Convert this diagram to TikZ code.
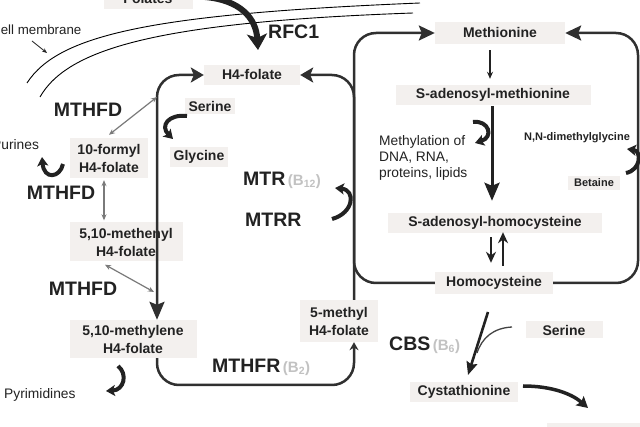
\documentclass[tikz,border=0pt]{standalone}
\usepackage{fontspec}
\setmainfont{Liberation Sans}
\usetikzlibrary{arrows.meta,calc}
\definecolor{boxbg}{HTML}{F3F0EE}
\definecolor{ink}{HTML}{222222}
\definecolor{loopc}{HTML}{303030}
\definecolor{dblc}{HTML}{7A7A7A}
\definecolor{vitc}{HTML}{C2C2C2}
\newcommand{\fbig}{\fontsize{19.5}{22}\selectfont\bfseries}
\newcommand{\flbl}{\fontsize{14}{18}\selectfont\bfseries}
\newcommand{\freg}{\fontsize{13.8}{15.8}\selectfont}
\newcommand{\fsmall}{\fontsize{11}{13}\selectfont\bfseries}
\newcommand{\vit}[1]{{\color{vitc}\fontsize{15}{17}\selectfont\bfseries\,(B\textsubscript{#1})}}
\begin{document}
\begin{tikzpicture}[x=1pt,y=-1pt,
  lbox/.style={fill=boxbg, font=\flbl, text=ink, inner xsep=4pt, inner ysep=3pt, align=center},
  enz/.style={font=\fbig, text=ink, inner sep=0pt},
  plaintxt/.style={font=\freg, text=ink, inner sep=0pt},
  loopline/.style={draw=loopc, line width=2.5pt, rounded corners=22pt},
  curvarr/.style={draw=ink, line width=4pt, -{Stealth[length=9pt,width=11pt,inset=2pt]}},
  dblarr/.style={draw=dblc, line width=1.2pt, {Stealth[length=6pt,width=5pt]}-{Stealth[length=6pt,width=5pt]}},
  memb/.style={draw=black, line width=0.9pt}
]
\useasboundingbox (0,0) rectangle (640,427);
\fill[white] (0,0) rectangle (640,427);

% cell membrane
\draw[memb] (27,83) .. controls (58,35) and (150,14) .. (420,3);
\draw[memb] (40,97) .. controls (68,48) and (160,22) .. (413,13);
\node[plaintxt, font=\fontsize{13.3}{15}\selectfont, anchor=west] (cm) at (-9,30) {Cell membrane};
\coordinate (cm1) at (32,41);
\coordinate (cm2) at (47,53);
\draw[ink, line width=0.8pt, -{Stealth[length=5pt,width=4pt]}] (cm1) -- (cm2);

% nodes
\node[lbox, minimum width=89pt, minimum height=21pt] (folates) at (148,-1) {Folates};
\node[enz, anchor=west] (rfc) at (268,32) {RFC1};
\node[lbox, minimum width=96pt, minimum height=20pt] (h4) at (252,75) {H4-folate};
\node[lbox, minimum width=50pt, minimum height=16pt] (ser1) at (210,106) {Serine};
\node[lbox, minimum width=56pt, minimum height=16pt] (gly) at (199,157) {Glycine};
\node[plaintxt, anchor=west] (pur) at (-8,145) {Purines};
\node[lbox, minimum width=78pt, minimum height=40pt] (formyl) at (109,158) {10-formyl\\H4-folate};
\node[lbox, minimum width=113pt, minimum height=39pt] (methenyl) at (126,242) {5,10-methenyl\\H4-folate};
\node[lbox, minimum width=127pt, minimum height=38pt] (methylene) at (133,339) {5,10-methylene\\H4-folate};
\node[lbox, minimum width=78pt, minimum height=42pt] (mthf) at (339,321) {5-methyl\\H4-folate};
\node[plaintxt, anchor=west] (pyr) at (4,395) {Pyrimidines};
\node[enz] (mthfd1) at (88,110) {MTHFD};
\node[enz] (mthfd2) at (61,193) {MTHFD};
\node[enz] (mthfd3) at (83,289) {MTHFD};
\node[enz, anchor=west] (mtr) at (243,180) {MTR\vit{12}};
\node[enz, anchor=west] (mtrr) at (245,220) {MTRR};
\node[enz, anchor=west] (mthfr) at (212,367) {MTHFR\vit{2}};

\node[lbox, minimum width=130pt, minimum height=22pt] (met) at (500,33) {Methionine};
\node[lbox, minimum width=195pt, minimum height=20pt] (sam) at (493,95) {S-adenosyl-methionine};
\node[lbox, minimum width=214pt, minimum height=20pt] (sah) at (495,223) {S-adenosyl-homocysteine};
\node[lbox, minimum width=118pt, minimum height=22pt] (hcy) at (494,283) {Homocysteine};
\node[plaintxt, align=left, anchor=west] (methyl) at (379,158) {Methylation of\\DNA, RNA,\\proteins, lipids};
\node[font=\fsmall, text=ink, inner sep=0pt] (dmg) at (577,138) {N,N-dimethylglycine};
\node[lbox, font=\fsmall, minimum width=52pt, minimum height=14pt] (bet) at (594,183) {Betaine};
\node[enz, anchor=west] (cbs) at (389,345) {CBS\vit{6}};
\node[lbox, minimum width=77pt, minimum height=17pt] (ser2) at (564,330) {Serine};
\node[lbox, minimum width=108pt, minimum height=20pt] (cys) at (464,392) {Cystathionine};
\fill[boxbg] (547,423) rectangle (640,440);

% left (folate) loop
\coordinate (cL) at (157,75);
\coordinate (cR) at (354,75);
\coordinate (cBL) at (157,385);
\coordinate (cBR) at (354,385);
\draw[loopline, {Stealth[length=18pt,width=15pt,inset=3pt]}-{Stealth[length=13pt,width=15pt,inset=3pt]}]
  (cL |- methylene.north) -- (cL) -- (h4.west);
\draw[loopline, -{Stealth[length=13pt,width=15pt,inset=3pt]}] (cR |- mthf.north) -- (cR) -- (h4.east);
\draw[loopline, -{Stealth[length=8pt,width=9pt]}] (cL |- methylene.south) -- (cBL) -- (cBR) -- (cR |- mthf.south);

% right (methionine) loop
\coordinate (rTL) at (354,33);
\coordinate (rTR) at (638,33);
\coordinate (rBL) at (354,283);
\coordinate (rBR) at (638,283);
\draw[loopline, -{Stealth[length=16pt,width=15pt,inset=3pt]}] (hcy.west) -- (rBL) -- (rTL) -- (met.west);
\draw[loopline, -{Stealth[length=16pt,width=15pt,inset=3pt]}] (hcy.east) -- (rBR) -- (rTR) -- (met.east);

% methionine cycle arrows
\draw[ink, line width=1.2pt, -{Stealth[length=7pt,width=6pt]}, shorten <=6pt, shorten >=6pt]
  ([xshift=-10pt]met.south) -- ([xshift=-10pt]met.south |- sam.north);
\draw[ink, line width=3pt, -{Stealth[length=18pt,width=15pt,inset=3pt]}, shorten <=1pt, shorten >=12pt]
  ([xshift=-1pt]sam.south) -- ([xshift=-1pt]sam.south |- sah.north);
\draw[ink, line width=2.6pt, -{Stealth[length=11pt,width=10pt]}] ($(sah.south)+(-4,4)$) -- ($(hcy.north)+(-3,-9)$);
\draw[ink, line width=2.6pt, -{Stealth[length=11pt,width=10pt]}] ($(hcy.north)+(9,-6)$) -- ($(sah.south)+(8,-1)$);
\coordinate (m1) at (473,122);
\coordinate (m2) at (475,143);
\draw[curvarr] (m1) .. controls (489,120) and (494,137) .. (m2);
\coordinate (b1) at (626,173);
\coordinate (b2) at (627,149);
\draw[curvarr] (b1) .. controls (641,170) and (642,151) .. (b2);

% left side arrows
\coordinate (j1) at (157,97);
\coordinate (j2) at (154,292);
\draw[dblarr] (j1) -- ([yshift=3pt]formyl.north);
\draw[dblarr] ([xshift=-5pt,yshift=-2pt]formyl.south) -- ([xshift=-5pt,yshift=2pt]formyl.south |- methenyl.north);
\draw[dblarr] ([xshift=-21pt,yshift=-3pt]methenyl.south) -- (j2);
\coordinate (s1) at (187,116);
\coordinate (s2) at (173,139);
\draw[curvarr] (s1) .. controls (168,114) and (160,126) .. (s2);
\coordinate (p1) at (63,164);
\coordinate (p2) at (42,157);
\draw[curvarr] (p1) .. controls (60,178) and (44,180) .. (p2);
\coordinate (y1) at (118,366);
\coordinate (y2) at (106,391);
\draw[curvarr] (y1) .. controls (128,374) and (124,390) .. (y2);
\coordinate (t1) at (332,219);
\coordinate (t2) at (335,188);
\draw[curvarr] (t1) .. controls (354,213) and (356,190) .. (t2);
\coordinate (r1) at (205,-3);
\coordinate (r2) at (258,50);
\draw[ink, line width=6pt, -{Stealth[length=16pt,width=20pt,inset=4pt]}] (r1) .. controls (240,0) and (256,18) .. (r2);

% transsulfuration
\coordinate (h1) at (488,312);
\coordinate (h2) at (468,375);
\draw[ink, line width=2.6pt, -{Stealth[length=13pt,width=11pt,inset=2pt]}] (h1) -- (h2);
\coordinate (sv1) at (512,327);
\coordinate (sv2) at (477,353);
\draw[draw=ink!85, line width=1.3pt] (sv1) .. controls (493,328) and (482,338) .. (sv2);
\coordinate (c1) at (523,386);
\coordinate (c2) at (588,408);
\draw[ink, line width=3.5pt, -{Stealth[length=11pt,width=12pt,inset=2pt]}] (c1) .. controls (552,386) and (572,394) .. (c2);
\end{tikzpicture}
\end{document}
